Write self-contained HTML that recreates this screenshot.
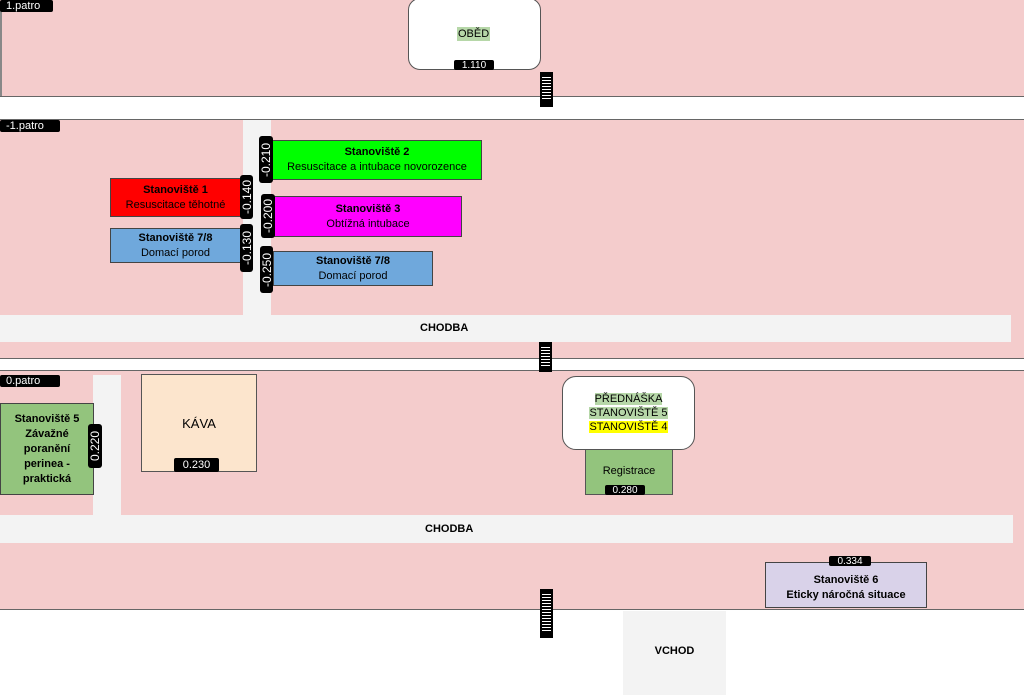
<!DOCTYPE html>
<html><head><meta charset="utf-8"><style>
body{margin:0;width:1024px;height:695px;position:relative;overflow:hidden;background:#fff;font-family:"Liberation Sans",sans-serif}
div{position:absolute;box-sizing:border-box}
.pk{background:#f4cccc;left:0;width:1024px}
.ln{left:0;width:1024px;height:1px;background:#666}
.lab{background:#000;color:#fff;font-size:11px;line-height:12px;border-radius:2px;padding-left:6px}
.tag{background:#000;color:#fff;font-size:10px;line-height:11px;text-align:center;border-radius:2px}
.vt{background:#000;color:#fff;font-size:12px;border-radius:3px}
.vt span{position:absolute;left:50%;top:50%;transform:translate(-50%,-50%) rotate(-90deg);white-space:nowrap}
.bx{border:1px solid #444;text-align:center;font-size:11px;line-height:15px;display:flex;flex-direction:column;justify-content:center}
.cor{background:#f3f3f3}
.st{background:#000;width:13px}
.st::after{content:"";position:absolute;left:2px;right:2px;top:3px;bottom:6px;background:repeating-linear-gradient(#000 0 2px,#fff 2px 3px)}
</style></head><body>
<div class="pk" style="top:0;height:96px"></div>
<div style="left:0;top:10px;width:2px;height:86px;background:#888"></div>
<div class="ln" style="top:96px"></div>
<div class="pk" style="top:119px;height:239px"></div>
<div class="ln" style="top:119px"></div>
<div class="ln" style="top:358px"></div>
<div class="pk" style="top:370px;height:239px"></div>
<div class="ln" style="top:370px"></div>
<div class="ln" style="top:609px"></div>

<div class="lab" style="left:0;top:0;width:53px;height:12px">1.patro</div>
<div style="left:408px;top:-2px;width:133px;height:72px;background:#fff;border:1px solid #555;border-radius:12px"></div>
<div style="left:457px;top:27px;background:#b6d7a8;font-size:11px;line-height:14px;padding:0 1px">OBĚD</div>
<div class="tag" style="left:454px;top:60px;width:40px;height:10px">1.110</div>
<div class="st" style="left:540px;top:72px;height:35px"></div>

<div class="lab" style="left:0;top:120px;width:60px;height:12px">-1.patro</div>
<div class="cor" style="left:243px;top:120px;width:28px;height:195px"></div>
<div class="bx" style="left:272px;top:140px;width:210px;height:40px;background:#00ff00"><b>Stanoviště 2</b>Resuscitace a intubace novorozence</div>
<div class="vt" style="left:259px;top:136px;width:14px;height:47px"><span>-0.210</span></div>
<div class="bx" style="left:110px;top:178px;width:131px;height:39px;background:#ff0000"><b>Stanoviště 1</b>Resuscitace těhotné</div>
<div class="vt" style="left:240px;top:175px;width:13px;height:44px"><span>-0.140</span></div>
<div class="bx" style="left:274px;top:196px;width:188px;height:41px;background:#ff00ff"><b>Stanoviště 3</b>Obtížná intubace</div>
<div class="vt" style="left:261px;top:194px;width:14px;height:44px"><span>-0.200</span></div>
<div class="bx" style="left:110px;top:228px;width:131px;height:35px;background:#6fa8dc"><b>Stanoviště 7/8</b>Domací porod</div>
<div class="vt" style="left:240px;top:224px;width:13px;height:48px"><span>-0.130</span></div>
<div class="bx" style="left:273px;top:251px;width:160px;height:35px;background:#6fa8dc"><b>Stanoviště 7/8</b>Domací porod</div>
<div class="vt" style="left:260px;top:246px;width:13px;height:47px"><span>-0.250</span></div>
<div class="cor" style="left:0;top:315px;width:1011px;height:27px;font-size:11px;font-weight:bold;text-align:center;line-height:27px;padding-left:0;width:1011px"><span style="position:absolute;left:420px">CHODBA</span></div>
<div class="st" style="left:539px;top:342px;height:30px"></div>

<div class="lab" style="left:0;top:375px;width:60px;height:12px">0.patro</div>
<div class="cor" style="left:93px;top:375px;width:28px;height:140px"></div>
<div class="bx" style="left:0;top:403px;width:94px;height:92px;background:#93c47d;font-weight:bold;font-size:11px"><span>Stanoviště 5<br>Závažné<br>poranění<br>perinea -<br>praktická</span></div>
<div class="vt" style="left:88px;top:424px;width:14px;height:44px"><span>0.220</span></div>
<div style="left:141px;top:374px;width:116px;height:98px;background:#fce5cd;border:1px solid #555;font-size:13px;text-align:center;line-height:98px">KÁVA</div>
<div class="tag" style="left:174px;top:458px;width:45px;height:14px;font-size:11px;line-height:14px">0.230</div>
<div style="left:562px;top:376px;width:133px;height:74px;background:#fff;border:1px solid #555;border-radius:14px"></div>
<div style="left:585px;top:392px;width:87px;text-align:center;font-size:11px;line-height:14px"><span style="background:#b6d7a8">PŘEDNÁŠKA</span><br><span style="background:#b6d7a8">STANOVIŠTĚ 5</span><br><span style="background:#ffff00">STANOVIŠTĚ 4</span></div>
<div style="left:585px;top:449px;width:88px;height:46px;background:#93c47d;border:1px solid #555;font-size:11px;text-align:center;line-height:42px">Registrace</div>
<div class="tag" style="left:605px;top:485px;width:40px;height:10px">0.280</div>
<div class="cor" style="left:0;top:515px;width:1013px;height:28px;font-size:11px;font-weight:bold;line-height:28px"><span style="position:absolute;left:425px">CHODBA</span></div>
<div class="bx" style="left:765px;top:562px;width:162px;height:46px;background:#d9d2e9;font-weight:bold;padding-top:6px"><span>Stanoviště 6<br>Eticky náročná situace</span></div>
<div class="tag" style="left:829px;top:556px;width:42px;height:10px">0.334</div>
<div class="st" style="left:540px;top:589px;height:49px"></div>
<div class="cor" style="left:623px;top:611px;width:103px;height:84px;font-size:11px;font-weight:bold;text-align:center;line-height:80px">VCHOD</div>
</body></html>
